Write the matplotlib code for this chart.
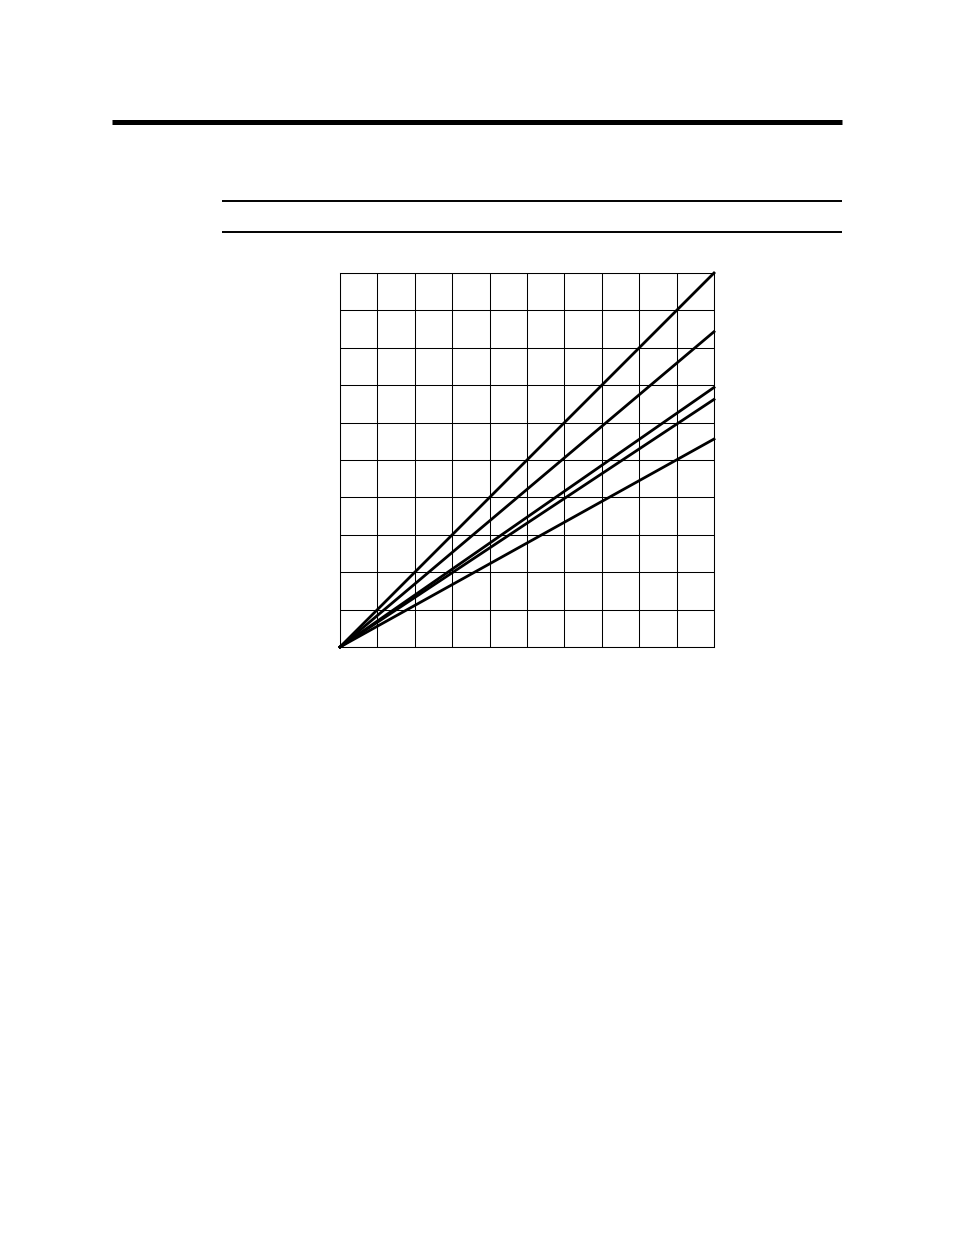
import matplotlib
matplotlib.use('Agg')
from matplotlib import pyplot as plt
from matplotlib.lines import Line2D

# lines all start at the origin, values read at the right edge
x_vals = [0, 10]
line_a = [0, 10.0]
line_b = [0, 8.43]
line_c = [0, 6.94]
line_d = [0, 6.62]
line_e = [0, 5.56]

W, H = 954, 1235
fig = plt.figure(figsize=(W / 100.0, H / 100.0), dpi=100)

# page rules
fig.add_artist(Line2D([112 / W, 842 / W], [1 - 121.5 / H, 1 - 121.5 / H], color='black', lw=3.6, solid_capstyle='butt'))
fig.add_artist(Line2D([222 / W, 842 / W], [1 - 201 / H, 1 - 201 / H], color='black', lw=1.4, solid_capstyle='butt'))
fig.add_artist(Line2D([222 / W, 842 / W], [1 - 231.5 / H, 1 - 231.5 / H], color='black', lw=1.4, solid_capstyle='butt'))

ax = fig.add_axes([340 / W, 1 - 647 / H, 374 / W, 374 / H])
ax.set_xlim(0, 10)
ax.set_ylim(0, 10)
ax.set_xticks(range(11))
ax.set_yticks(range(11))
ax.grid(True, color='black', lw=0.75)
ax.tick_params(length=0, labelbottom=False, labelleft=False)
for s in ax.spines.values():
	s.set_linewidth(0.75)

for ys in [line_a, line_b, line_c, line_d, line_e]:
	ax.plot(x_vals, ys, color='black', lw=2.0, clip_on=False)

fig.savefig('out.png', dpi=100)
